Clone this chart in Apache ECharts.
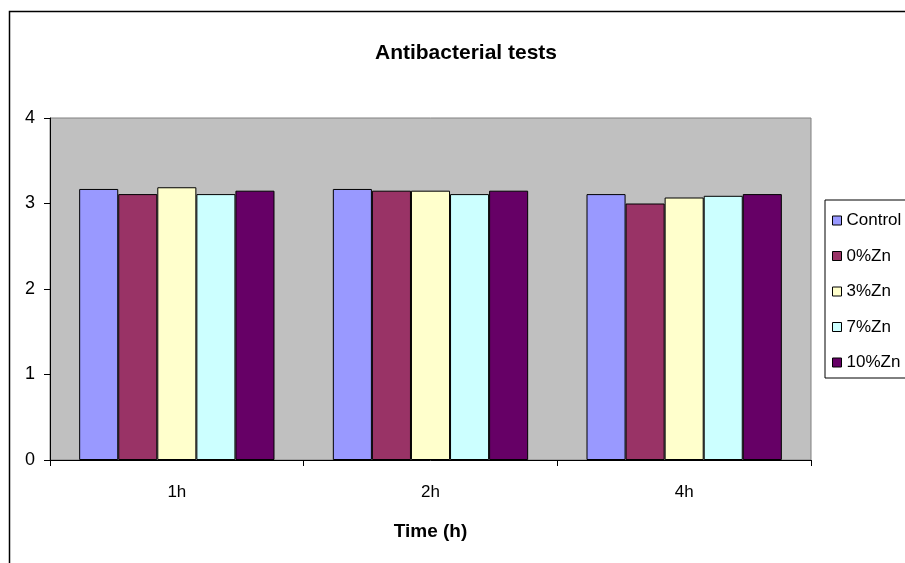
<!DOCTYPE html>
<html>
<head>
<meta charset="utf-8">
<script src="https://cdn.jsdelivr.net/npm/echarts@6/dist/echarts.min.js"></script>
<style>
  html, body { margin: 0; padding: 0; background: #fff; }
  #chart { width: 905px; height: 563px; }
</style>
</head>
<body>
<div id="chart"></div>
<script>
// Sampling times
const times = ['1h', '2h', '4h'];

// Samples and their bar colours
const sampleNames = ['Control', '0%Zn', '3%Zn', '7%Zn', '10%Zn'];
const sampleColors = ['#9999FF', '#993366', '#FFFFCC', '#CCFFFF', '#660066'];

// Measured values per sample, one per sampling time
const control = [3.17, 3.17, 3.11];
const zn0 = [3.11, 3.15, 3.00];
const zn3 = [3.19, 3.15, 3.07];
const zn7 = [3.11, 3.11, 3.09];
const zn10 = [3.15, 3.15, 3.11];

const yTicks = { min: 0, max: 4, interval: 1 };

const seriesValues = [control, zn0, zn3, zn7, zn10];
const font = 'Liberation Sans, Arial, sans-serif';

const chart = echarts.init(document.getElementById('chart'), null, { renderer: 'canvas' });

chart.setOption({
  animation: false,
  backgroundColor: '#ffffff',
  textStyle: { fontFamily: font, color: '#000' },
  title: {
    text: 'Antibacterial tests',
    left: 461,
    textAlign: 'center',
    top: 38,
    textStyle: { fontFamily: font, fontSize: 21, fontWeight: 'bold', color: '#000' }
  },
  graphic: [
    {
      type: 'rect',
      shape: { x: 9.5, y: 11.5, width: 1000, height: 1000 },
      style: { fill: 'none', stroke: '#000', lineWidth: 1.5 },
      silent: true,
      z: -1
    }
  ],
  legend: {
    orient: 'vertical',
    left: 825,
    top: 200,
    data: sampleNames,
    icon: 'rect',
    itemWidth: 9,
    itemHeight: 9,
    itemGap: 18.5,
    padding: [12, 20, 7, 7],
    backgroundColor: '#fff',
    borderColor: '#000',
    borderWidth: 1,
    textStyle: { fontFamily: font, fontSize: 17, color: '#000' },
    itemStyle: { borderColor: '#000', borderWidth: 1 }
  },
  grid: {
    left: 50,
    right: 94,
    top: 118,
    bottom: 103,
    show: true,
    backgroundColor: '#C0C0C0',
    borderColor: '#808080',
    borderWidth: 1
  },
  xAxis: {
    type: 'category',
    data: times,
    name: 'Time (h)',
    nameLocation: 'middle',
    nameGap: 62,
    nameTextStyle: { fontFamily: font, fontSize: 19, fontWeight: 'bold', color: '#000' },
    axisLine: { lineStyle: { color: '#000', width: 1 } },
    axisTick: { show: true, length: 6, lineStyle: { color: '#000' } },
    axisLabel: { fontFamily: font, fontSize: 17, color: '#000', margin: 24 },
    splitLine: { show: false }
  },
  yAxis: {
    type: 'value',
    min: yTicks.min,
    max: yTicks.max,
    interval: yTicks.interval,
    axisLine: { show: true, lineStyle: { color: '#000', width: 1 } },
    axisTick: { show: true, length: 6, lineStyle: { color: '#000' } },
    axisLabel: { fontFamily: font, fontSize: 18, color: '#000', margin: 15 },
    splitLine: { show: false }
  },
  series: sampleNames.map((name, i) => ({
    name: name,
    type: 'bar',
    data: seriesValues[i],
    barGap: '0%',
    barCategoryGap: '23%',
    itemStyle: { color: sampleColors[i], borderColor: '#000', borderWidth: 1 }
  }))
});
</script>
</body>
</html>
